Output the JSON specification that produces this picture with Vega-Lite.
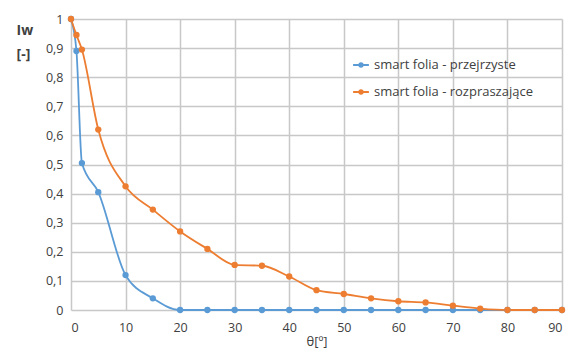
{
  "$schema": "https://vega.github.io/schema/vega-lite/v6.json",
  "autosize": "none",
  "width": 491,
  "height": 291,
  "padding": {"left": 71, "top": 19, "right": 8, "bottom": 41},
  "background": "white",
  "config": {
    "font": "Open Sans",
    "view": {"stroke": null}
  },
  "data": {"values": [
    {"theta": 0, "v": 1, "s": "smart folia - przejrzyste"},
    {"theta": 1, "v": 0.89, "s": "smart folia - przejrzyste"},
    {"theta": 2, "v": 0.505, "s": "smart folia - przejrzyste"},
    {"theta": 5, "v": 0.405, "s": "smart folia - przejrzyste"},
    {"theta": 10, "v": 0.12, "s": "smart folia - przejrzyste"},
    {"theta": 15, "v": 0.04, "s": "smart folia - przejrzyste"},
    {"theta": 20, "v": 0, "s": "smart folia - przejrzyste"},
    {"theta": 25, "v": 0, "s": "smart folia - przejrzyste"},
    {"theta": 30, "v": 0, "s": "smart folia - przejrzyste"},
    {"theta": 35, "v": 0, "s": "smart folia - przejrzyste"},
    {"theta": 40, "v": 0, "s": "smart folia - przejrzyste"},
    {"theta": 45, "v": 0, "s": "smart folia - przejrzyste"},
    {"theta": 50, "v": 0, "s": "smart folia - przejrzyste"},
    {"theta": 55, "v": 0, "s": "smart folia - przejrzyste"},
    {"theta": 60, "v": 0, "s": "smart folia - przejrzyste"},
    {"theta": 65, "v": 0, "s": "smart folia - przejrzyste"},
    {"theta": 70, "v": 0, "s": "smart folia - przejrzyste"},
    {"theta": 75, "v": 0, "s": "smart folia - przejrzyste"},
    {"theta": 80, "v": 0, "s": "smart folia - przejrzyste"},
    {"theta": 85, "v": 0, "s": "smart folia - przejrzyste"},
    {"theta": 90, "v": 0, "s": "smart folia - przejrzyste"},
    {"theta": 0, "v": 1, "s": "smart folia - rozpraszające"},
    {"theta": 1, "v": 0.945, "s": "smart folia - rozpraszające"},
    {"theta": 2, "v": 0.895, "s": "smart folia - rozpraszające"},
    {"theta": 5, "v": 0.62, "s": "smart folia - rozpraszające"},
    {"theta": 10, "v": 0.425, "s": "smart folia - rozpraszające"},
    {"theta": 15, "v": 0.345, "s": "smart folia - rozpraszające"},
    {"theta": 20, "v": 0.27, "s": "smart folia - rozpraszające"},
    {"theta": 25, "v": 0.21, "s": "smart folia - rozpraszające"},
    {"theta": 30, "v": 0.155, "s": "smart folia - rozpraszające"},
    {"theta": 35, "v": 0.152, "s": "smart folia - rozpraszające"},
    {"theta": 40, "v": 0.115, "s": "smart folia - rozpraszające"},
    {"theta": 45, "v": 0.068, "s": "smart folia - rozpraszające"},
    {"theta": 50, "v": 0.055, "s": "smart folia - rozpraszające"},
    {"theta": 55, "v": 0.04, "s": "smart folia - rozpraszające"},
    {"theta": 60, "v": 0.03, "s": "smart folia - rozpraszające"},
    {"theta": 65, "v": 0.026, "s": "smart folia - rozpraszające"},
    {"theta": 70, "v": 0.015, "s": "smart folia - rozpraszające"},
    {"theta": 75, "v": 0.005, "s": "smart folia - rozpraszające"},
    {"theta": 80, "v": 0, "s": "smart folia - rozpraszające"},
    {"theta": 85, "v": 0, "s": "smart folia - rozpraszające"},
    {"theta": 90, "v": 0, "s": "smart folia - rozpraszające"}
  ]},
  "mark": {"type": "line", "interpolate": "monotone", "strokeWidth": 1.8, "point": {"filled": true, "size": 40}},
  "encoding": {
    "x": {"field": "theta", "type": "quantitative", "scale": {"domain": [0, 90], "nice": false},
      "axis": {"grid": true, "gridColor": "#c8c8c8", "gridOpacity": 1, "gridWidth": 1.5, "domain": false, "ticks": true, "tickColor": "#c8c8c8", "tickSize": 0, "values": [0,10,20,30,40,50,60,70,80,90], "labelColor": "#404040", "labelFontSize": 12.5, "title": "θ[º]", "titleFontSize": 13, "titleFontWeight": "normal", "titleColor": "#404040", "titlePadding": 2, "labelPadding": 11}},
    "y": {"field": "v", "type": "quantitative", "scale": {"domain": [0, 1], "nice": false},
      "axis": {"grid": true, "gridColor": "#c8c8c8", "gridOpacity": 1, "gridWidth": 1.5, "domain": false, "ticks": true, "tickColor": "#c8c8c8", "tickSize": 0, "values": [0,0.1,0.2,0.3,0.4,0.5,0.6,0.7,0.8,0.9,1], "labelColor": "#404040", "labelFontSize": 12.5, "labelExpr": "datum.value == 0 ? '0' : datum.value == 1 ? '1' : replace(format(datum.value, '.1f'), '.', ',')", "labelPadding": 8,
        "title": ["Iw", "[-]"], "titleAngle": 0, "titleAlign": "left", "titleBaseline": "top", "titleX": -55, "titleY": 4, "titleFontSize": 14, "titleFontWeight": "bold", "titleColor": "#404040", "titleLineHeight": 24}},
    "color": {"field": "s", "type": "nominal", "scale": {"range": ["#5b9bd5", "#ed7d31"]},
      "legend": {"title": null, "orient": "none", "legendX": 281, "legendY": 37, "labelFontSize": 13, "labelColor": "#404040", "rowPadding": 11, "symbolSize": 250, "symbolStrokeWidth": 1.8, "symbolType": "M-1,0L1,0M-0.22,0A0.22,0.22 0 1,1 0.22,0A0.22,0.22 0 1,1 -0.22,0Z", "labelOffset": 4}}
  }
}
